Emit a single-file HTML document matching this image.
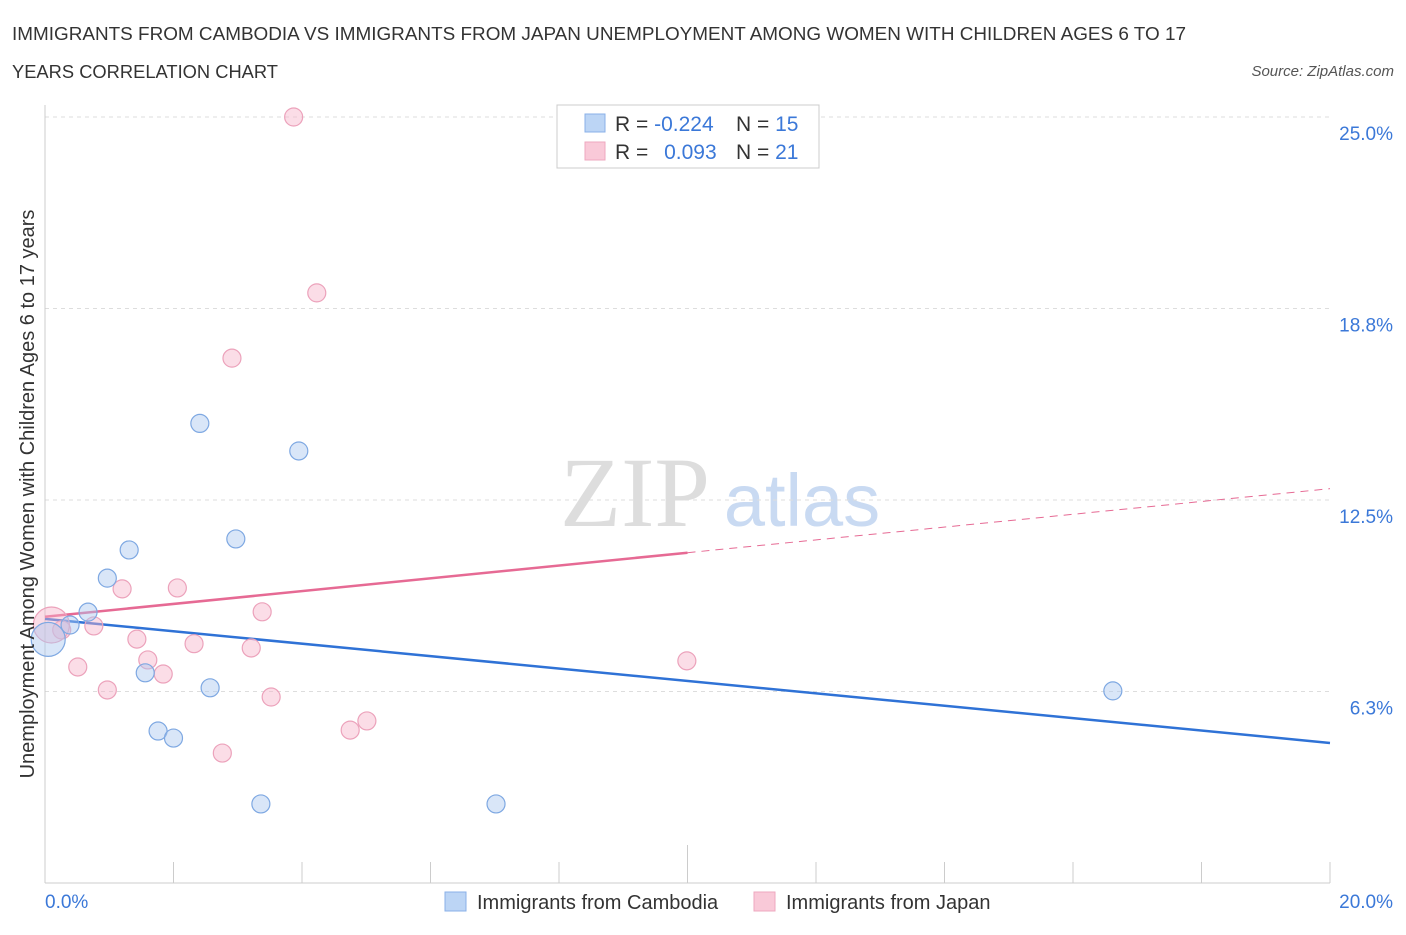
<!DOCTYPE html>
<html><head><meta charset="utf-8">
<style>
body{margin:0;background:#fff;font-family:"Liberation Sans",sans-serif;}
</style></head>
<body>
<svg id="c" width="1406" height="930" xmlns="http://www.w3.org/2000/svg">
<text x="12" y="40" font-size="18" fill="#333" textLength="1174" lengthAdjust="spacingAndGlyphs">IMMIGRANTS FROM CAMBODIA VS IMMIGRANTS FROM JAPAN UNEMPLOYMENT AMONG WOMEN WITH CHILDREN AGES 6 TO 17</text>
<text x="12" y="78" font-size="18" fill="#333" textLength="266" lengthAdjust="spacingAndGlyphs">YEARS CORRELATION CHART</text>
<text x="1394" y="76" font-size="15" fill="#555" font-style="italic" text-anchor="end">Source: ZipAtlas.com</text>
<text x="635" y="526" font-size="100" fill="#ddd" font-family="Liberation Serif,serif" text-anchor="middle">ZIP</text>
<text x="802" y="526" font-size="74" fill="#c9daf2" text-anchor="middle">atlas</text>
<g id="grid"></g>
<g id="axes"></g>
<g id="trends"></g>
<g id="pts"></g>
<text transform="translate(34,494) rotate(-90)" font-size="20" fill="#333" text-anchor="middle">Unemployment Among Women with Children Ages 6 to 17 years</text>
<text x="45" y="908" font-size="19" fill="#3b78d8">0.0%</text>
<text x="1393" y="908" font-size="19" fill="#3b78d8" text-anchor="end">20.0%</text>
<g>
<rect x="557" y="105" width="262" height="63" fill="#fff" stroke="#ccc"/>
<rect x="585" y="114" width="20" height="18" fill="#bcd5f5" stroke="#8ab0e8"/>
<rect x="585" y="142" width="20" height="18" fill="#f9c9d8" stroke="#eea8bf"/>
<text x="615" y="131" font-size="21" fill="#333">R = <tspan fill="#3b78d8">-0.224</tspan></text>
<text x="736" y="131" font-size="21" fill="#333">N = <tspan fill="#3b78d8">15</tspan></text>
<text x="615" y="159" font-size="21" fill="#333">R = <tspan fill="#3b78d8" dx="10">0.093</tspan></text>
<text x="736" y="159" font-size="21" fill="#333">N = <tspan fill="#3b78d8">21</tspan></text>
</g>
<g>
<rect x="445" y="892" width="21" height="19" fill="#bcd5f5" stroke="#8ab0e8"/>
<text x="477" y="909" font-size="20" fill="#333">Immigrants from Cambodia</text>
<rect x="754" y="892" width="21" height="19" fill="#f9c9d8" stroke="#eea8bf"/>
<text x="786" y="909" font-size="20" fill="#333">Immigrants from Japan</text>
</g>
</svg>
<script>
const yTicks=[6.25,12.5,18.75,25];
const yTickLabels=["6.3%","12.5%","18.8%","25.0%"];
const xTicks=[0,2,4,6,8,10,12,14,16,18,20];
const camX=[0.39,0.67,0.97,1.31,1.56,1.76,2.0,2.41,2.57,2.97,3.36,3.95,7.02,16.62,0.05];
const camY=[8.42,8.84,9.95,10.87,6.86,4.96,4.73,15.0,6.37,11.23,2.58,14.1,2.58,6.27,7.95];
const camR=[9,9,9,9,9,9,9,9,9,9,9,9,9,9,17];
const japX=[0.26,0.51,0.76,0.97,1.2,1.43,1.6,1.84,2.06,2.32,2.76,2.91,3.21,3.38,3.52,3.87,4.23,4.75,5.01,9.99,0.1];
const japY=[8.26,7.05,8.39,6.3,9.6,7.96,7.28,6.82,9.63,7.81,4.24,17.13,7.67,8.85,6.07,25.0,19.26,4.99,5.29,7.25,8.42];
const japR=[9,9,9,9,9,9,9,9,9,9,9,9,9,9,9,9,9,9,9,9,18];
const camTrend=[[0,8.62],[20,4.57]];
const japTrendSolid=[[0,8.69],[10,10.78]];
const japTrendDash=[[10,10.78],[20,12.87]];
const X0=45,X1=1330,Y0=883,PPY=30.64;
const sx=v=>X0+(X1-X0)*v/20, sy=v=>Y0-v*PPY;
const NS="http://www.w3.org/2000/svg";
function mk(tag,parent,attrs){const e=document.createElementNS(NS,tag);for(const k in attrs)e.setAttribute(k,attrs[k]);document.getElementById(parent).appendChild(e);return e;}
yTicks.forEach((t,i)=>{
 const l=mk('line','grid',{x1:X0,x2:1330,y1:sy(t),y2:sy(t),stroke:'#ddd','stroke-dasharray':'4,4'});
 
 
 const tx=mk('text','grid',{x:1393,y:sy(t)+23,'font-size':19,fill:'#3b78d8','text-anchor':'end'});
 tx.textContent=yTickLabels[i];
 
 
});
const ax=mk('line','axes',{x1:X0,x2:X0,y1:105,y2:Y0,stroke:'#ccc'});


const bx=mk('line','axes',{x1:X0,x2:1330,y1:Y0,y2:Y0,stroke:'#ccc'});


xTicks.forEach(t=>{
 const l=mk('line','axes',{x1:sx(t),x2:sx(t),y1:t==10?845:862,y2:Y0,stroke:'#ccc'});
 
 
});
function line(p,color,dash,name){
 const l=mk('line','trends',{x1:sx(p[0][0]),y1:sy(p[0][1]),x2:sx(p[1][0]),y2:sy(p[1][1]),stroke:color,'stroke-width':dash?1:2.5});
 if(dash)l.setAttribute('stroke-dasharray','8,6');
 
 
}
line(camTrend,'#2f72d6',false,'cambodia-trend-line');
line(japTrendSolid,'#e66a94',false,'japan-trend-line');
line(japTrendDash,'#e66a94',true,'japan-trend-extension');
japX.forEach((x,i)=>{
 const c=mk('circle','pts',{cx:sx(x),cy:sy(japY[i]),r:japR[i],fill:'rgba(247,180,202,0.45)',stroke:'#eca2bb','stroke-width':1.2});
 
 
});
camX.forEach((x,i)=>{
 const c=mk('circle','pts',{cx:sx(x),cy:sy(camY[i]),r:camR[i],fill:'rgba(170,200,240,0.45)',stroke:'#7ea8e2','stroke-width':1.2});
 
 
});
</script>
</body></html>
